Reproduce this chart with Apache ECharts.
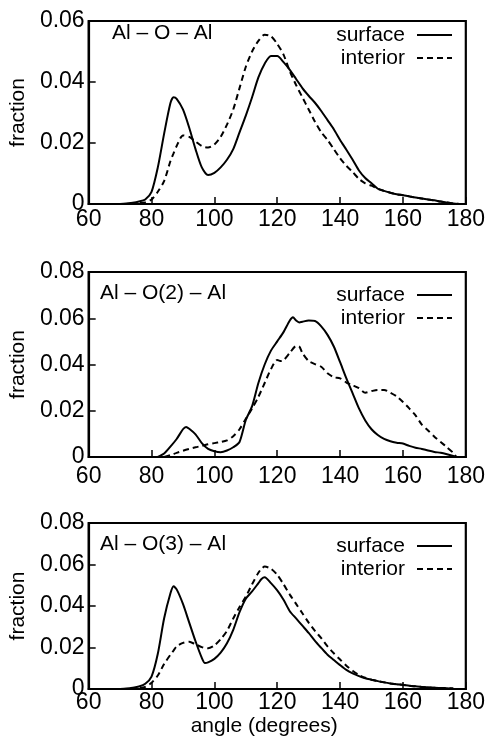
<!DOCTYPE html>
<html>
<head>
<meta charset="utf-8">
<script src="https://cdn.jsdelivr.net/npm/echarts@6/dist/echarts.min.js"></script>
<style>html,body{margin:0;padding:0;background:#fff}#c{width:488px;height:741px}</style>
</head>
<body>
<div id="c"></div>
<script>
// ---- data ----
const xTicks = [60, 80, 100, 120, 140, 160, 180];
const panelTitles = ['Al – O – Al', 'Al – O(2) – Al', 'Al – O(3) – Al'];
const seriesNames = ['surface', 'interior'];
const yMax = [0.06, 0.08, 0.08];

// Panel 1: Al-O-Al
const angles1 = [70,72,74,76,78,80,82,84,86,87,88,90,92,94,96,98,100,102,104,106,108,110,112,114,116,118,120,122,124,126,128,130,132,134,136,138,140,142,144,146,148,150,152,154,156,158,160,162,164,166,168,170,172,174,176,178];
const surface1 = [0,0.0002,0.0004,0.0008,0.0015,0.004,0.012,0.023,0.033,0.035,0.0345,0.031,0.025,0.018,0.012,0.0095,0.0102,0.012,0.0145,0.018,0.0235,0.029,0.035,0.0415,0.046,0.0485,0.0485,0.0465,0.044,0.041,0.038,0.0355,0.0332,0.0305,0.0275,0.0245,0.021,0.0178,0.0145,0.011,0.0085,0.0068,0.005,0.0043,0.0037,0.0032,0.0029,0.0025,0.0021,0.0018,0.0015,0.0012,0.0008,0.0005,0.0002,0];
const interior1 = [0,0,0.0001,0.0003,0.0005,0.0015,0.004,0.0075,0.014,0.0166,0.019,0.0225,0.022,0.0205,0.019,0.0185,0.0195,0.022,0.026,0.031,0.038,0.045,0.05,0.0535,0.0555,0.055,0.0525,0.049,0.0435,0.039,0.035,0.031,0.027,0.0235,0.021,0.018,0.015,0.0125,0.0105,0.0082,0.0068,0.006,0.005,0.0043,0.0037,0.0032,0.0029,0.0025,0.0021,0.0018,0.0015,0.0012,0.0008,0.0005,0.0002,0];

// Panel 2: Al-O(2)-Al
const angles2s = [82,84,86,88,90,91,92,94,96,98,100,102,104,106,108,110,112,114,116,118,120,122,124,125,126,127,128,130,132,134,136,138,140,142,144,146,148,150,152,154,156,158,160,162,164,166,168,170,172,174,176,177];
const surface2 = [0,0.0015,0.0045,0.0078,0.012,0.013,0.0122,0.0098,0.006,0.0035,0.0025,0.0021,0.0028,0.0042,0.0065,0.016,0.022,0.032,0.04,0.046,0.05,0.054,0.059,0.0604,0.059,0.0582,0.0585,0.059,0.0588,0.0565,0.0528,0.0478,0.041,0.034,0.0275,0.021,0.0158,0.012,0.0095,0.0078,0.0068,0.0062,0.0058,0.0048,0.004,0.0035,0.0028,0.0022,0.0018,0.0012,0.0005,0];
const angles2i = [84,86,88,90,92,94,96,98,100,102,104,106,108,110,112,114,116,118,120,121,122,124,126,127,128,130,132,134,136,138,140,142,144,146,148,150,152,154,156,158,160,162,164,166,168,170,172,174,176,177];
const interior2 = [0,0.0008,0.0018,0.0027,0.0035,0.0042,0.0048,0.0055,0.006,0.0065,0.0072,0.009,0.012,0.0165,0.021,0.026,0.032,0.038,0.042,0.0415,0.0418,0.045,0.048,0.0478,0.045,0.0415,0.0402,0.039,0.0362,0.0345,0.034,0.0322,0.031,0.0298,0.0278,0.0285,0.029,0.029,0.0278,0.0262,0.0238,0.021,0.018,0.014,0.0115,0.0088,0.0065,0.0042,0.0018,0];

// Panel 3: Al-O(3)-Al
const angles3 = [70,72,74,76,78,80,82,84,86,87,88,90,92,94,96,97,98,100,102,104,106,108,110,112,114,115,116,118,120,122,124,126,128,130,132,134,136,138,140,142,144,146,148,150,152,154,156,158,160,162,164,166,168,170,172,174,176];
const surface3 = [0,0.0002,0.0006,0.0012,0.0025,0.006,0.017,0.034,0.046,0.0495,0.048,0.041,0.032,0.023,0.015,0.0125,0.0128,0.0145,0.0175,0.022,0.0285,0.037,0.0435,0.047,0.051,0.053,0.0538,0.051,0.0475,0.043,0.0375,0.034,0.0305,0.027,0.0232,0.0198,0.0165,0.014,0.0115,0.0092,0.0075,0.0062,0.0052,0.0045,0.0038,0.0032,0.0027,0.0023,0.002,0.0016,0.0013,0.001,0.0008,0.0006,0.0005,0.0004,0.0002];
const interior3 = [0,0,0.0002,0.0004,0.001,0.003,0.0065,0.012,0.0165,0.0185,0.0205,0.0222,0.0228,0.0215,0.0202,0.0198,0.0196,0.021,0.024,0.028,0.034,0.0395,0.0445,0.0505,0.056,0.058,0.059,0.058,0.055,0.0505,0.0455,0.041,0.0365,0.032,0.028,0.0245,0.0205,0.0172,0.0142,0.0112,0.0088,0.0068,0.0054,0.0045,0.0038,0.0032,0.0027,0.0023,0.002,0.0016,0.0013,0.001,0.0008,0.0006,0.0005,0.0004,0.0002];

// ---- chart ----
const FONT = '"Liberation Sans", Arial, Helvetica, sans-serif';
const pair = (xs, ys) => xs.map((x, i) => [x, ys[i]]);
const panels = [
  [pair(angles1, surface1), pair(angles1, interior1)],
  [pair(angles2s, surface2), pair(angles2i, interior2)],
  [pair(angles3, surface3), pair(angles3, interior3)]
];

const grids = [
  {left: 84, top: 21, width: 383, height: 183},
  {left: 84, top: 272, width: 384, height: 185},
  {left: 84, top: 523, width: 384, height: 166}
];
const labelMargins = [4, 8, 2];
const titleLefts = [112, 100, 100];
const legendTops = [24, 284, 535];

const option = {
  animation: false,
  textStyle: {fontFamily: FONT},
  grid: grids.map(g => Object.assign({show: true, borderColor: '#000', borderWidth: 2.2, backgroundColor: 'transparent'}, g)),
  title: panelTitles.map((t, i) => ({
    text: t, left: titleLefts[i], top: legendTops[i] - 1, padding: 0,
    textStyle: {fontFamily: FONT, fontSize: 21, fontWeight: 'normal', color: '#000'}
  })),
  legend: legendTops.map(t => ({
    data: seriesNames, orient: 'vertical', right: 35, top: t, align: 'right',
    itemWidth: 35, itemHeight: 14, itemGap: 1, padding: 0,
    itemStyle: {opacity: 0, borderWidth: 0},
    textStyle: {fontFamily: FONT, fontSize: 21, color: '#000', lineHeight: 22, padding: [0, 7, 0, 0]}
  })),
  xAxis: grids.map((g, i) => ({
    gridIndex: i, type: 'value', min: xTicks[0], max: xTicks[xTicks.length - 1], interval: 20,
    axisLine: {show: true, lineStyle: {color: '#000', width: 2.2}},
    axisTick: {show: true, inside: true, length: 7, lineStyle: {color: '#000', width: 1.5}},
    axisLabel: {color: '#000', fontSize: 23, fontFamily: FONT, margin: labelMargins[i]},
    splitLine: {show: false},
    name: i === 2 ? 'angle (degrees)' : '',
    nameLocation: 'middle', nameGap: 27,
    nameTextStyle: {color: '#000', fontSize: 21, fontFamily: FONT, padding: [0, 26, 0, 0]}
  })),
  yAxis: grids.map((g, i) => ({
    gridIndex: i, type: 'value', min: 0, max: yMax[i], interval: 0.02,
    axisLine: {show: true, lineStyle: {color: '#000', width: 2.2}},
    axisTick: {show: true, inside: true, length: 7, lineStyle: {color: '#000', width: 1.5}},
    axisLabel: {color: '#000', fontSize: 23, fontFamily: FONT, margin: 4},
    splitLine: {show: false},
    name: 'fraction', nameLocation: 'middle', nameGap: 55,
    nameTextStyle: {color: '#000', fontSize: 21, fontFamily: FONT}
  })),
  series: []
};

panels.forEach((p, i) => {
  option.series.push({
    name: seriesNames[0], type: 'line', xAxisIndex: i, yAxisIndex: i, data: p[0],
    symbol: 'none', smooth: 0.25, lineStyle: {color: '#000', width: 2, type: 'solid'}, itemStyle: {color: '#000'}
  });
  option.series.push({
    name: seriesNames[1], type: 'line', xAxisIndex: i, yAxisIndex: i, data: p[1],
    symbol: 'none', smooth: 0.25, lineStyle: {color: '#000', width: 2, type: [6, 4]}, itemStyle: {color: '#000'}
  });
});

const chart = echarts.init(document.getElementById('c'), null, {renderer: 'canvas'});
chart.setOption(option);
</script>
</body>
</html>
